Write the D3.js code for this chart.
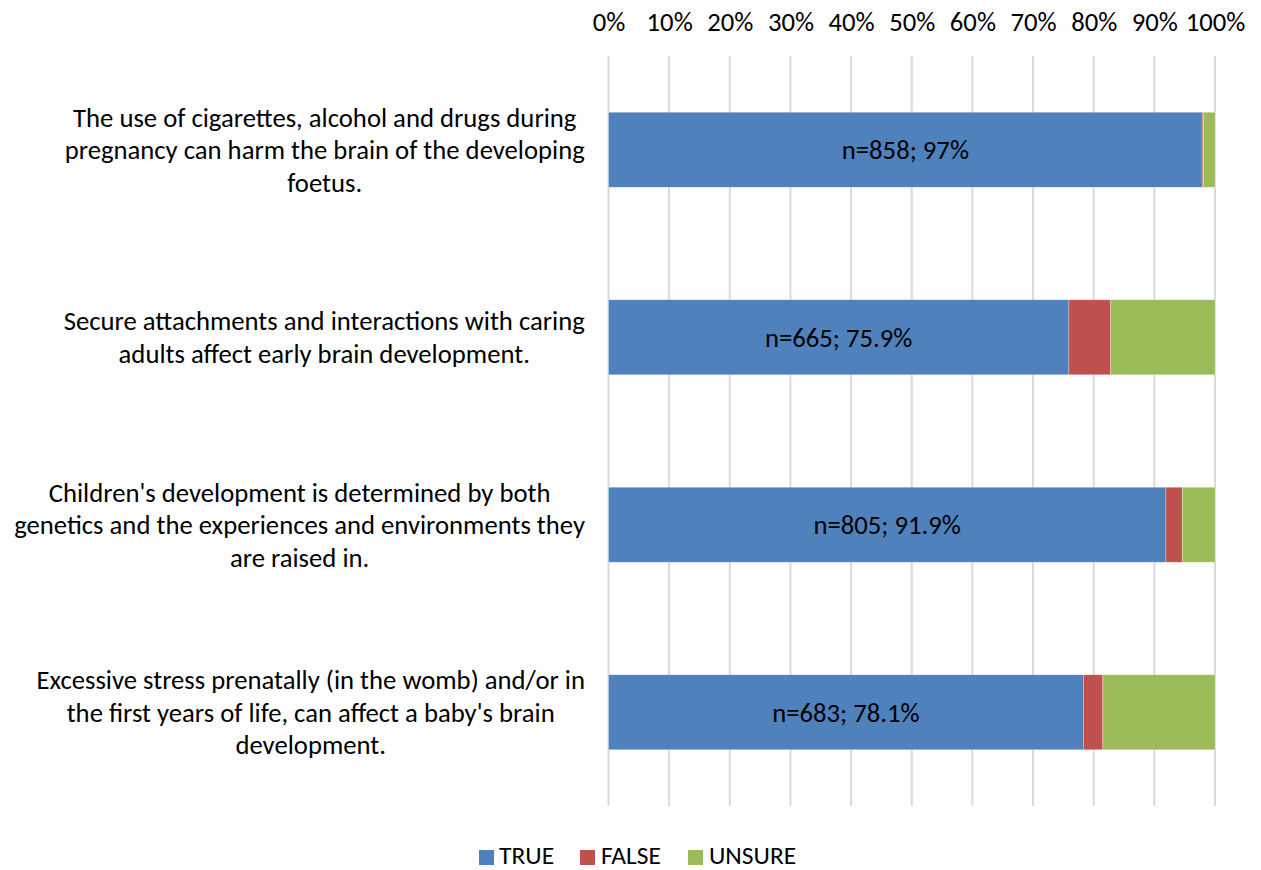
<!DOCTYPE html>
<html>
<head>
<meta charset="utf-8">
<script src="https://cdn.jsdelivr.net/npm/d3@7"></script>
<style>
  html, body { margin: 0; padding: 0; background: #fff; }
  svg { display: block; }
  text { font-family: Carlito, Calibri, Lato, sans-serif; fill: #000; }
</style>
</head>
<body>
<svg id="chart" width="1261" height="870"></svg>
<script>
// ---- data ----
const categories = [
  "The use of cigarettes, alcohol and drugs during\npregnancy can harm the brain of the developing\nfoetus.",
  "Secure attachments and interactions with caring\nadults affect early brain development.",
  "Children's development is determined by both\ngenetics and the experiences and environments they\nare raised in.",
  "Excessive stress prenatally (in the womb) and/or in\nthe first years of life, can affect a baby's brain\ndevelopment."
];
const seriesNames = ["TRUE", "FALSE", "UNSURE"];
const trueValues = [97.9, 75.9, 91.9, 78.3];
const falseValues = [0.2, 6.9, 2.7, 3.2];
const unsureValues = [1.9, 17.2, 5.4, 18.5];
const barLabels = ["n=858; 97%", "n=665; 75.9%", "n=805; 91.9%", "n=683; 78.1%"];
const tickValues = [0, 10, 20, 30, 40, 50, 60, 70, 80, 90, 100];
const colors = ["#4F81BD", "#C0504D", "#9BBB59"];

// ---- layout ----
const svg = d3.select("#chart");
const fontSize = 26.7;
const plotLeft = 608.5, plotRight = 1215, plotTop = 56, plotBottom = 806;

const rows = categories.map((c, i) => ({
  cat: c, TRUE: trueValues[i], FALSE: falseValues[i], UNSURE: unsureValues[i], label: barLabels[i]
}));

const x = d3.scaleLinear().domain([0, 100]).range([plotLeft, plotRight]);
const y = d3.scaleBand().domain(categories).range([plotTop, plotBottom])
  .paddingInner(0.6).paddingOuter(0.3);
const color = d3.scaleOrdinal().domain(seriesNames).range(colors);

// gridlines
svg.append("g").selectAll("line").data(tickValues).join("line")
  .attr("x1", d => x(d)).attr("x2", d => x(d))
  .attr("y1", plotTop).attr("y2", plotBottom)
  .attr("stroke", "#d9d9d9").attr("stroke-width", 2);

// top axis labels
const axis = d3.axisTop(x).tickValues(tickValues).tickFormat(d => d + "%").tickSize(0).tickPadding(0);
const ag = svg.append("g").attr("transform", "translate(0,31)").call(axis);
ag.select(".domain").remove();
ag.selectAll("text").attr("font-size", fontSize).attr("font-family", "Carlito, Calibri, Lato, sans-serif")
  .attr("fill", "#000").attr("dy", 0);

// stacked bars
const stack = d3.stack().keys(seriesNames);
const stacked = stack(rows);
svg.append("g").selectAll("g").data(stacked).join("g")
  .attr("fill", d => color(d.key))
  .selectAll("rect").data(d => d).join("rect")
  .attr("x", d => x(d[0]))
  .attr("y", d => y(d.data.cat))
  .attr("width", d => x(d[1]) - x(d[0]))
  .attr("height", y.bandwidth())
  .attr("stroke", "rgba(255,255,255,0.35)").attr("stroke-width", 0.8);

// bar labels (centered in TRUE segment)
svg.append("g").selectAll("text").data(rows).join("text")
  .attr("x", d => x(d.TRUE / 2))
  .attr("y", d => y(d.cat) + y.bandwidth() / 2)
  .attr("dy", "0.35em")
  .attr("text-anchor", "middle")
  .attr("font-size", fontSize)
  .text(d => d.label);

// category labels (multi-line, centered block right-aligned to axis)
const lineH = 32.5;
const labelRight = 585;
categories.forEach(c => {
  const lines = c.split("\n");
  const g = svg.append("g");
  const t = g.append("text").attr("text-anchor", "middle").attr("font-size", fontSize);
  lines.forEach((ln, i) => {
    t.append("tspan").attr("x", 0)
      .attr("y", y(c) + y.bandwidth() / 2 + (i - (lines.length - 1) / 2) * lineH)
      .attr("dy", "0.35em").text(ln);
  });
  const w = t.node().getBBox().width;
  t.attr("transform", `translate(${labelRight - w / 2},0)`);
});

// legend
const legendItems = [
  { name: "TRUE", sx: 479, tx: 499 },
  { name: "FALSE", sx: 580, tx: 601 },
  { name: "UNSURE", sx: 688, tx: 709 }
];
const lg = svg.append("g");
legendItems.forEach(it => {
  lg.append("rect").attr("x", it.sx).attr("y", 850).attr("width", 15).attr("height", 15)
    .attr("fill", color(it.name));
  lg.append("text").attr("x", it.tx).attr("y", 864)
    .attr("font-size", 25.5).text(it.name);
});
</script>
</body>
</html>
